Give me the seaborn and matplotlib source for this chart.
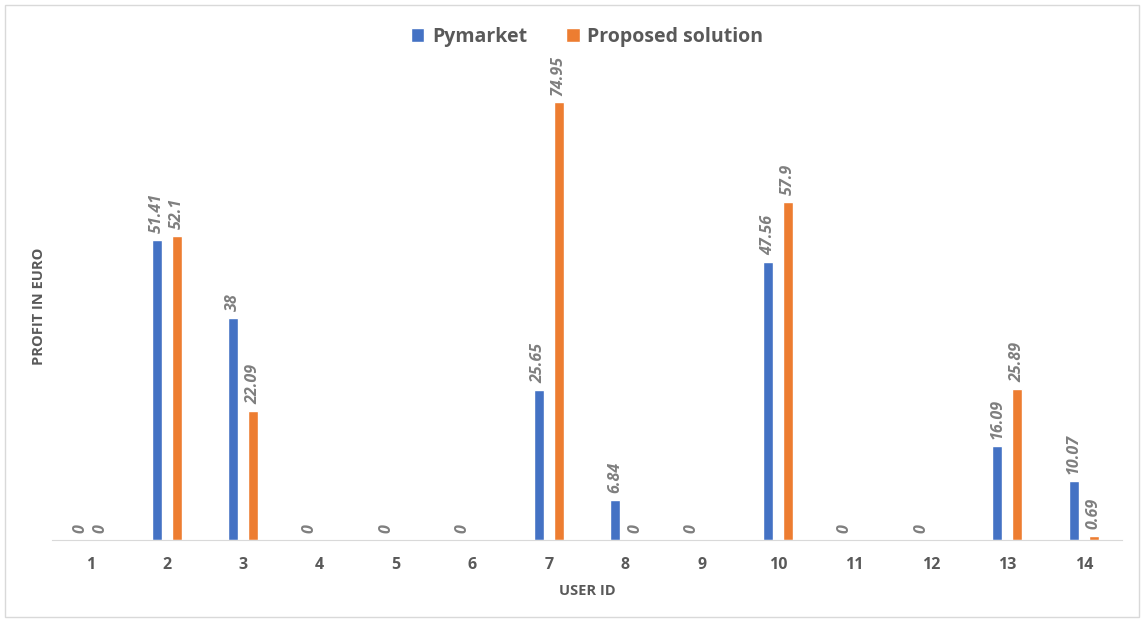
import numpy as np
import pandas as pd
import matplotlib.pyplot as plt
import seaborn as sns
from matplotlib.patches import Rectangle

# Data
users = [str(i) for i in range(1, 15)]
pymarket = [0, 51.41, 38, 0, 0, 0, 25.65, 6.84, 0, 47.56, 0, 0, 16.09, 10.07]
proposed = [0, 52.1, 22.09, np.nan, np.nan, np.nan, 74.95, 0, np.nan, 57.9, np.nan, np.nan, 25.89, 0.69]
series = ["Pymarket", "Proposed solution"]
colors = ["#4472C4", "#ED7D31"]

df = pd.DataFrame({
    "user": users * 2,
    "profit": pymarket + proposed,
    "series": [series[0]] * len(users) + [series[1]] * len(users),
})

sns.set_style("white")
plt.rcParams["font.family"] = ["Open Sans", "DejaVu Sans"]
text_grey = "#595959"

fig = plt.figure(figsize=(11.46, 6.21), dpi=100)
ax = fig.add_axes([52 / 1146, 1 - 540 / 621, (1122 - 52) / 1146, (540 - 73) / 621])

sns.barplot(data=df, x="user", y="profit", hue="series", palette=colors,
            width=0.52, gap=0.5, order=users, hue_order=series, ax=ax,
            saturation=1, legend=True)

for cont in ax.containers:
    ax.bar_label(cont, fmt="{:g}", rotation=90, padding=5, fontsize=11.5,
                 fontstyle="italic", fontweight="bold", color="#7f7f7f")

ax.set_ylim(0, 80)
ax.set_xlim(-0.5, len(users) - 0.5)
ax.set_yticks([])
for s in ["left", "right", "top"]:
    ax.spines[s].set_visible(False)
ax.spines["bottom"].set_color("#d9d9d9")
ax.tick_params(axis="x", length=0, pad=12, labelsize=11.5, labelcolor=text_grey)
for lbl in ax.get_xticklabels():
    lbl.set_fontweight("bold")

ax.set_xlabel("USER ID", fontsize=10.5, fontweight="bold", color=text_grey, labelpad=8)
ax.set_ylabel("PROFIT IN EURO", fontsize=10.5, fontweight="bold", color=text_grey, labelpad=4)

ax.legend(loc="upper center", bbox_to_anchor=(0.5, 1.137), ncol=2, frameon=False,
          handlelength=0.7, handleheight=0.7, handletextpad=0.4, columnspacing=2.0,
          prop={"weight": "bold", "size": 14})
for t in ax.get_legend().get_texts():
    t.set_color(text_grey)

# light border around the chart area
fig.patches.append(Rectangle((5 / 1146, 4 / 621), 1134 / 1146, 612 / 621,
                             transform=fig.transFigure, fill=False,
                             edgecolor="#d9d9d9", linewidth=1))

fig.savefig("out.png", dpi=100)
